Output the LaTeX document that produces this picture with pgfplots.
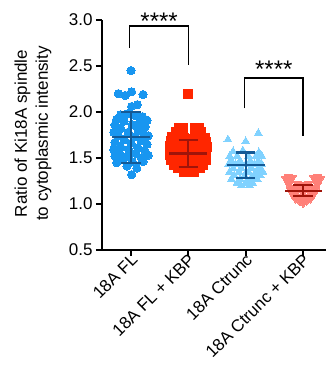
\documentclass[border=0pt]{standalone}
\usepackage{pgfplots}
\pgfplotsset{compat=1.18}
\usepackage{fontspec}
\setmainfont{Liberation Sans}
\definecolor{cblue}{RGB}{24,150,240}
\definecolor{cred}{RGB}{255,38,0}
\definecolor{clblue}{RGB}{128,210,255}
\definecolor{csalmon}{RGB}{255,128,120}
\definecolor{dblue}{RGB}{20,90,150}
\definecolor{dred}{RGB}{160,20,10}
\begin{document}
\begin{tikzpicture}
\begin{axis}[
  scale only axis, width=224pt, height=230pt,
  xmin=-0.506, xmax=3.40, ymin=0.5, ymax=3.0,
  axis x line=bottom, axis y line=left,
  axis line style={-, line width=2pt, black},
  clip=false, clip mode=individual,
  xtick={0,1,2,3},
  xticklabels={18A FL, 18A FL + KBP, 18A Ctrunc, 18A Ctrunc + KBP},
  ytick={0.5,1.0,1.5,2.0,2.5,3.0},
  yticklabel style={/pgf/number format/.cd, fixed, fixed zerofill, precision=1, assume math mode=true},
  tick style={line width=1.8pt, black},
  major tick length=6pt, tick align=outside,
  tick label style={font=\fontsize{17}{19}\selectfont},
  xticklabel style={rotate=45, anchor=east, inner sep=1pt, xshift=3pt, yshift=-3pt},
  ylabel={Ratio of Ki18A spindle\\to cytoplasmic intensity},
  ylabel style={at={(axis description cs:-0.308,0.507)}, anchor=center, align=center, font=\fontsize{17}{21}\selectfont},
]
% group 1
\addplot[only marks, mark=*, mark size=4.1pt, color=cblue, mark options={draw=cblue, fill=cblue, line width=0pt}] coordinates {
(0.00,2.45) (-0.22,2.20) (-0.10,2.18) (0.01,2.22) (0.21,2.19) (0.01,2.06) (0.11,2.08)
(-0.18,1.97) (-0.06,1.98) (0.08,1.96) (0.20,1.95) (-0.25,1.92) (0.28,1.91) (-0.12,1.90)
(0.15,1.89) (-0.28,1.86) (0.02,1.86) (0.25,1.84) (-0.18,1.82) (0.12,1.81) (-0.30,1.78)
(-0.05,1.78) (0.22,1.77) (0.30,1.74) (-0.22,1.74) (0.08,1.73) (-0.12,1.70) (0.18,1.69)
(-0.28,1.67) (0.00,1.66) (0.28,1.65) (-0.18,1.62) (0.12,1.61) (-0.30,1.59) (-0.04,1.59)
(0.24,1.58) (-0.20,1.55) (0.08,1.55) (0.30,1.53) (-0.28,1.52) (-0.08,1.51) (0.18,1.50)
(-0.16,1.48) (0.21,1.46) (0.02,1.46) (-0.25,1.45) (-0.07,1.41) (0.10,1.39) (0.01,1.32)
};
% group 2
\addplot[only marks, mark=square*, mark size=4.6pt, color=cred, mark options={draw=cred, fill=cred, line width=0pt}] coordinates {
(1.00,2.20)
(0.83,1.83) (0.90,1.82) (1.11,1.83) (1.18,1.82)
(0.78,1.78) (0.87,1.78) (1.15,1.78) (1.22,1.78)
(0.72,1.73) (0.82,1.73) (0.92,1.72) (1.02,1.71) (1.12,1.73) (1.22,1.73) (1.28,1.72)
(0.70,1.68) (0.80,1.68) (0.90,1.68) (1.00,1.67) (1.10,1.68) (1.20,1.68) (1.30,1.67)
(0.68,1.63) (0.78,1.63) (0.88,1.63) (0.98,1.62) (1.08,1.63) (1.18,1.63) (1.28,1.63) (1.32,1.62)
(0.70,1.58) (0.80,1.58) (0.90,1.58) (1.00,1.57) (1.10,1.58) (1.20,1.58) (1.30,1.58)
(0.68,1.53) (0.78,1.53) (0.88,1.53) (0.98,1.52) (1.08,1.53) (1.18,1.53) (1.28,1.53)
(0.70,1.48) (0.80,1.48) (0.90,1.48) (1.00,1.47) (1.10,1.48) (1.20,1.48) (1.30,1.48)
(0.75,1.43) (0.85,1.43) (0.95,1.43) (1.05,1.43) (1.15,1.43) (1.25,1.43)
(0.82,1.39) (0.92,1.39) (1.02,1.38) (1.12,1.39) (1.20,1.39)
(0.92,1.35) (1.02,1.35) (1.10,1.35)
};
% group 3
\addplot[only marks, mark=triangle*, mark size=4.6pt, color=clblue, mark options={draw=clblue, fill=clblue, line width=0pt}] coordinates {
(2.22,1.77) (1.69,1.70) (2.00,1.68) (1.78,1.57) (2.23,1.56) (1.95,1.58)
(1.72,1.52) (1.85,1.52) (2.05,1.52) (2.18,1.52) (2.28,1.52)
(1.75,1.47) (1.90,1.47) (2.08,1.47) (2.22,1.47)
(1.70,1.43) (1.82,1.43) (2.00,1.43) (2.15,1.43) (2.28,1.43)
(1.78,1.39) (1.92,1.39) (2.10,1.39) (2.24,1.39)
(1.72,1.35) (1.88,1.35) (2.05,1.35) (2.18,1.35) (2.30,1.35)
(1.80,1.31) (1.98,1.31) (2.14,1.31) (2.25,1.31)
(1.75,1.27) (1.90,1.27) (2.08,1.27) (2.20,1.27)
(1.85,1.23) (2.00,1.23) (2.12,1.23)
(1.92,1.20) (2.06,1.20)
};
% group 4
\addplot[only marks, mark=triangle*, mark size=4.6pt, color=csalmon, mark options={draw=csalmon, fill=csalmon, line width=0pt, rotate=180}] coordinates {
(2.74,1.30) (2.82,1.29) (3.18,1.29) (3.26,1.30) (3.30,1.27) (2.70,1.27)
(2.78,1.25) (3.22,1.25) (2.90,1.22) (3.00,1.21) (3.10,1.22)
(2.75,1.21) (3.25,1.21) (2.84,1.18) (3.16,1.18) (2.94,1.17) (3.06,1.17)
(2.78,1.15) (3.22,1.15) (2.88,1.13) (3.12,1.13) (3.00,1.12)
(2.82,1.10) (3.18,1.10) (2.92,1.08) (3.08,1.08)
(2.87,1.06) (3.13,1.06) (3.00,1.05) (2.94,1.03) (3.06,1.03) (3.00,1.01)
};
% mean and SD
\addplot[color=dblue, line width=2.2pt, mark=none] coordinates {(-0.33,1.73) (0.33,1.73)};
\addplot[color=dblue, line width=2.2pt, mark=none] coordinates {(0,1.45) (0,2.00)};
\addplot[color=dblue, line width=2.2pt, mark=none] coordinates {(-0.17,2.00) (0.17,2.00)};
\addplot[color=dblue, line width=2.2pt, mark=none] coordinates {(-0.17,1.45) (0.17,1.45)};
\addplot[color=dred, line width=2.2pt, mark=none] coordinates {(0.67,1.55) (1.33,1.55)};
\addplot[color=dred, line width=2.2pt, mark=none] coordinates {(1,1.405) (1,1.70)};
\addplot[color=dred, line width=2.2pt, mark=none] coordinates {(0.83,1.70) (1.17,1.70)};
\addplot[color=dred, line width=2.2pt, mark=none] coordinates {(0.83,1.405) (1.17,1.405)};
\addplot[color=dblue, line width=2.2pt, mark=none] coordinates {(1.67,1.42) (2.33,1.42)};
\addplot[color=dblue, line width=2.2pt, mark=none] coordinates {(2,1.28) (2,1.56)};
\addplot[color=dblue, line width=2.2pt, mark=none] coordinates {(1.83,1.56) (2.17,1.56)};
\addplot[color=dblue, line width=2.2pt, mark=none] coordinates {(1.83,1.28) (2.17,1.28)};
\addplot[color=dred, line width=2.2pt, mark=none] coordinates {(2.69,1.145) (3.33,1.145)};
\addplot[color=dred, line width=2.2pt, mark=none] coordinates {(3,1.087) (3,1.207)};
\addplot[color=dred, line width=2.2pt, mark=none] coordinates {(2.83,1.207) (3.17,1.207)};
\addplot[color=dred, line width=2.2pt, mark=none] coordinates {(2.83,1.087) (3.17,1.087)};
% brackets
\draw[line width=1.2pt] (axis cs:-0.02,2.70) -- (axis cs:-0.02,2.935) -- (axis cs:1,2.935) -- (axis cs:1,2.51);
\draw[line width=1.2pt] (axis cs:1.98,2.04) -- (axis cs:1.98,2.37) -- (axis cs:3,2.37) -- (axis cs:3,1.74);
\node[anchor=base, font=\fontsize{24}{24}\selectfont, inner sep=0pt] at (axis cs:0.49,2.90) {****};
\node[anchor=base, font=\fontsize{24}{24}\selectfont, inner sep=0pt] at (axis cs:2.49,2.38) {****};
\end{axis}
\pgfresetboundingbox
\path[use as bounding box] (current axis.south west) ++(-102pt,-131pt) rectangle ++(326pt,381pt);
\end{tikzpicture}
\end{document}
